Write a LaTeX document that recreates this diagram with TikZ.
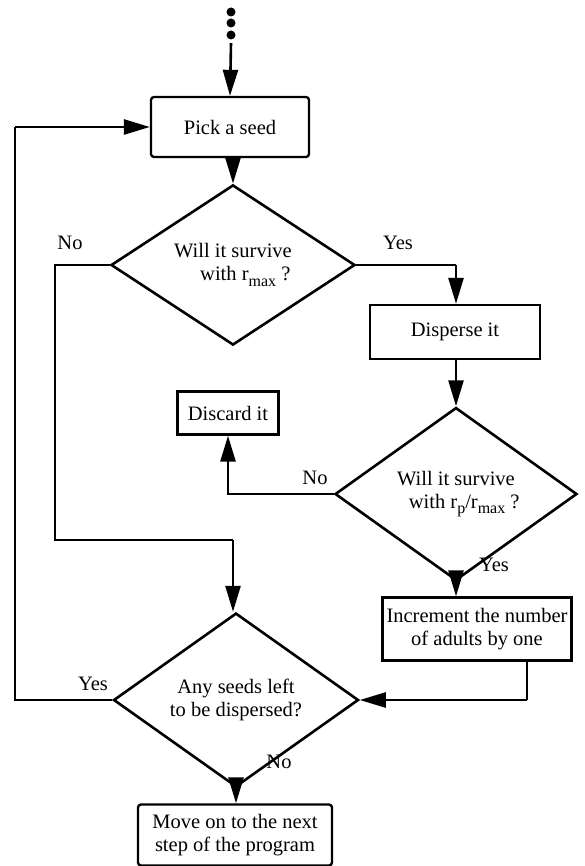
\documentclass[tikz,border=0pt]{standalone}
\usepackage{fontspec}
\setmainfont{Liberation Serif}
\usetikzlibrary{shapes.geometric,arrows.meta}
\newcommand{\lowsub}[1]{\raisebox{-0.55ex}{\fontsize{16}{16}\selectfont #1}}
\tikzset{
  every node/.style={font=\fontsize{20.5}{23}\selectfont, inner sep=0pt},
  flow/.style={line width=2.6pt, -{Triangle[length=26pt,width=15pt]}},
  plain/.style={line width=2.6pt},
  roundbox/.style={draw, line width=2.3pt, rounded corners=3pt, align=center},
  sharpbox/.style={draw, line width=2.3pt, align=center},
  choice/.style={draw, diamond, line width=2.6pt, align=center},
  tag/.style={anchor=center}
}
\begin{document}
\begin{tikzpicture}[x=1pt, y=-1pt]
\useasboundingbox (0,0) rectangle (585,866);

% continuation dots above the loop
\foreach \yy in {12,23,35} \fill (231,\yy) circle (4.5pt);
\coordinate (entry) at (231,43);

% boxes
\node[roundbox, minimum width=158pt, minimum height=60pt] (pick) at (230,127) {Pick a seed};
\node[choice, minimum width=244pt, minimum height=110pt] (d1) at (233,265)
  {Will it survive\\ \hspace*{1.2em}with r\lowsub{max} ?};
\node[sharpbox, minimum width=170pt, minimum height=54pt] (disp) at (455,332) {Disperse it};
\node[choice, minimum width=242pt, minimum height=112pt] (d2) at (456,494)
  {Will it survive\\ \hspace*{0.8em}with r\lowsub{p}/r\lowsub{max} ?};
\node[sharpbox, minimum width=101pt, minimum height=43pt] (disc) at (228,413) {Discard it};
\node[sharpbox, minimum width=189pt, minimum height=63pt] (inc) at (477,629)
  {Increment the number\\of adults by one};
\node[choice, minimum width=245pt, minimum height=108pt] (d3) at (236,700)
  {Any seeds left\\to be dispersed?};
\node[roundbox, minimum width=194pt, minimum height=61pt] (move) at (235,835)
  {Move on to the next\\step of the program};

% corner points of the routed connectors
\coordinate (noA) at (55,265);
\coordinate (noB) at (55,540);
\coordinate (noC) at (233,540);
\coordinate (yesA) at (456,265);
\coordinate (incA) at (527,700);
\coordinate (loopA) at (15,700);
\coordinate (loopB) at (15,127);

% connectors
\draw[flow] (entry) -- (pick.north);
\draw[flow] (pick.south -| d1.north) -- (d1.north);
\draw[plain] (d1.west) -- (noA) -- (noB) -- (noC);
\draw[flow] (noC) -- (d3.north -| noC);
\draw[plain] (d1.east) -- (yesA);
\draw[flow] (yesA) -- (disp.north -| yesA);
\draw[flow] (disp.south -| d2.north) -- (d2.north);
\draw[flow] (d2.west) -- (disc.south |- d2.west) -- (disc.south);
\draw[flow] (d2.south) -- (d2.south |- inc.north);
\draw[plain] (inc.south -| incA) -- (incA);
\draw[flow] (incA) -- (d3.east);
\draw[plain] (d3.west) -- (loopA) -- (loopB);
\draw[flow] (loopB) -- (pick.west);
\draw[flow] (d3.south) -- (move.north -| d3.south);

% branch labels
\node[tag] (l1) at (70,243) {No};
\node[tag] (l2) at (398,243) {Yes};
\node[tag] (l3) at (315,478) {No};
\node[tag] (l4) at (494,565) {Yes};
\node[tag] (l5) at (93,684) {Yes};
\node[tag] (l6) at (279,762) {No};
\end{tikzpicture}
\end{document}
